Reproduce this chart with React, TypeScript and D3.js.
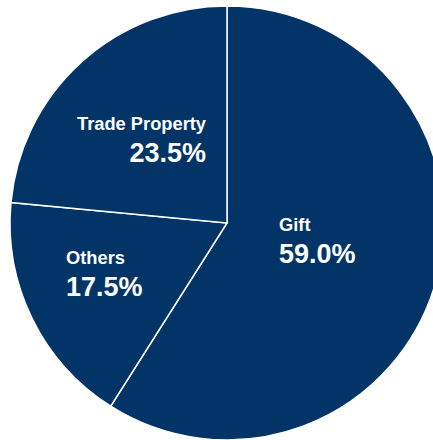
import React from "react";
import * as d3 from "d3";

const categories = ["Gift", "Others", "Trade Property"];
const values = [59.0, 17.5, 23.5];
const labels = ["59.0%", "17.5%", "23.5%"];

const W = 433;
const H = 440;
const cx = 227;
const cy = 223;
const R = 217;

const labelPos: { x: number; y: number; anchor: "start" | "end" }[] = [
  { x: 279, y: 231, anchor: "start" },
  { x: 66, y: 264, anchor: "start" },
  { x: 206, y: 130, anchor: "end" },
];

export default function App() {
  const pie = d3.pie<number>().sort(null).value((d) => d);
  const arcs = pie(values);
  const arc = d3.arc<d3.PieArcDatum<number>>().innerRadius(0).outerRadius(R);
  return (
    <svg
      width={W}
      height={H}
      style={{ position: "absolute", left: 0, top: 0, background: "#fff" }}
    >
      <g transform={`translate(${cx},${cy})`}>
        {arcs.map((a, i) => (
          <path key={i} d={arc(a) || ""} fill="#033467" stroke="#ffffff" strokeWidth={1.5} />
        ))}
      </g>
      {categories.map((c, i) => (
        <text
          key={c}
          x={labelPos[i].x}
          y={labelPos[i].y}
          textAnchor={labelPos[i].anchor}
          fill="#fff"
          fontFamily="Liberation Sans, Arial, sans-serif"
          fontWeight="bold"
        >
          <tspan x={labelPos[i].x} fontSize={18.3}>{c}</tspan>
          <tspan x={labelPos[i].x} dy={31.5} fontSize={27}>{labels[i]}</tspan>
        </text>
      ))}
    </svg>
  );
}
